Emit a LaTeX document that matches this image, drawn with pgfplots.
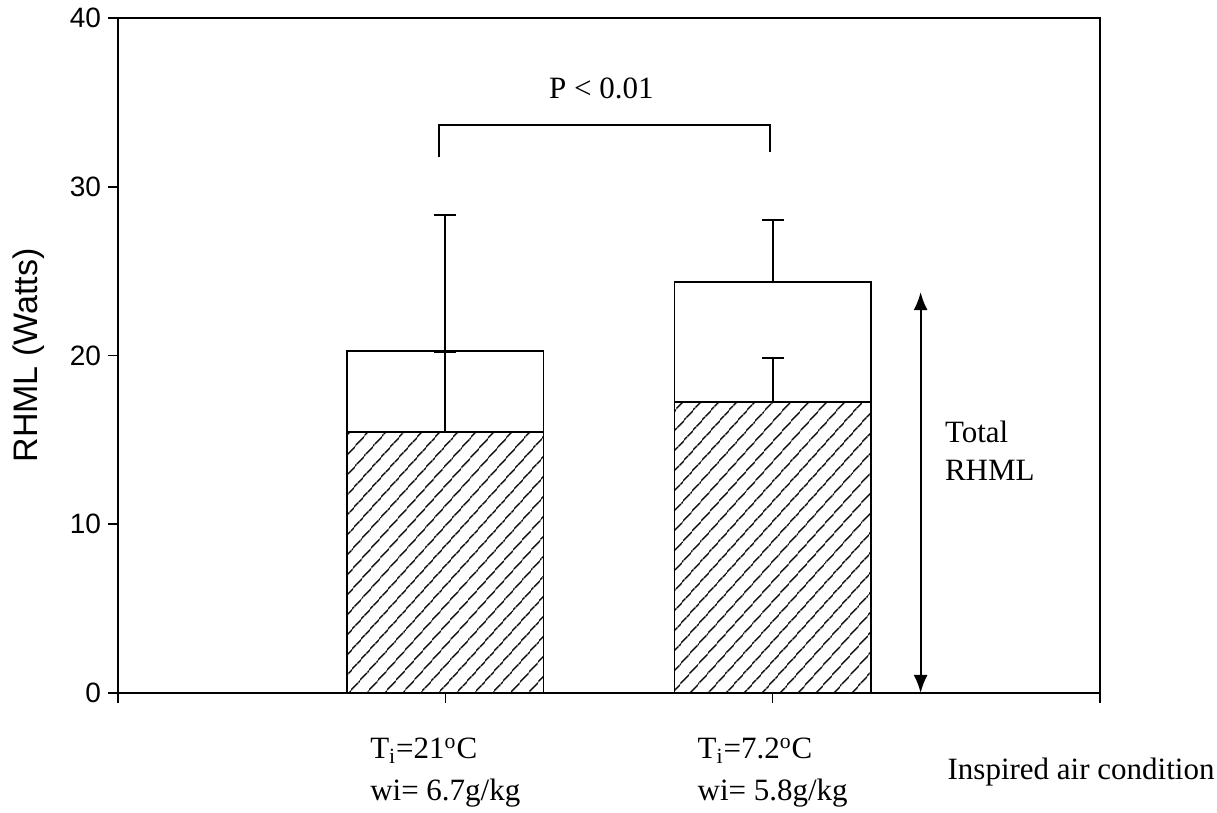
\documentclass[border=0pt]{standalone}
\usepackage{pgfplots}
\pgfplotsset{compat=1.18}
\usepackage{fontspec}
\setmainfont{Liberation Serif}
\newfontfamily\arial{Liberation Sans}
\usetikzlibrary{patterns.meta,arrows.meta}
\begin{document}
\begin{tikzpicture}
\begin{axis}[
  at={(0,0)}, anchor=south west,
  scale only axis, width=491pt, height=337.5pt,
  xmin=0, xmax=3, ymin=0, ymax=40,
  axis line style={line width=1pt},
  xtick={0,1,2,3}, xticklabels={,{T\textsubscript{i}=21\textsuperscript{o}C\\wi= 6.7g/kg},{T\textsubscript{i}=7.2\textsuperscript{o}C\\wi= 5.8g/kg},},
  xticklabel style={align=left, font=\fontsize{15.5}{21}\selectfont, yshift=-14pt},
  ytick={0,10,20,30,40},
  yticklabel style={font=\arial\fontsize{14}{14}\selectfont},
  /pgf/number format/assume math mode=true,
  tick pos=left, tick align=outside, major tick length=5pt,
  tick style={line width=0.8pt, black},
  ylabel={RHML (Watts)},
  ylabel style={font=\arial\fontsize{17}{17}\selectfont, yshift=6pt},
  clip=false,
]
% total RHML (white)
\addplot[ybar, bar shift=0pt, bar width=0.6, fill=white, draw=black, line width=0.9pt]
  coordinates {(1,20.27) (2,24.36)};
% hatched component
\addplot[ybar, bar shift=0pt, bar width=0.6, draw=black, line width=0.9pt,
  pattern={Lines[angle=48, distance=6.9pt, line width=0.75pt]}]
  coordinates {(1,15.47) (2,17.24)};
% error bars of hatched component
\addplot[draw=none, mark=none, forget plot,
  error bars/.cd, y dir=plus, y explicit,
  error bar style={line width=1pt, black},
  error mark options={rotate=90, mark size=5.5pt, line width=1pt, black}]
  coordinates {(1,15.47) +- (0,4.75) (2,17.24) +- (0,2.61)};
% error bars of total
\addplot[draw=none, mark=none, forget plot,
  error bars/.cd, y dir=plus, y explicit,
  error bar style={line width=1pt, black},
  error mark options={rotate=90, mark size=5.5pt, line width=1pt, black}]
  coordinates {(1,20.27) +- (0,8.06) (2,24.36) +- (0,3.67)};
% significance bracket
\addplot[black, line width=1pt, mark=none]
  coordinates {(0.981,31.76) (0.981,33.66) (1.992,33.66) (1.992,32.06)};
\node[font=\fontsize{15.5}{18}\selectfont] at (axis cs:1.477,35.85) {P < 0.01};
% total arrow
\addplot[black, line width=1pt, mark=none, {Latex[length=9pt,width=7pt]}-{Latex[length=9pt,width=7pt]}]
  coordinates {(2.452,0) (2.452,23.76)};
\node[anchor=west, align=left, font=\fontsize{15.5}{19}\selectfont] at (axis cs:2.505,14.34) {Total\\RHML};
\node[anchor=west, font=\fontsize{15.5}{18}\selectfont] at (axis cs:2.513,0) [yshift=-39.5pt] {Inspired air condition};
\end{axis}
\pgfresetboundingbox
\path (-59pt,-60pt) rectangle (549.5pt,346.5pt);
\end{tikzpicture}
\end{document}
